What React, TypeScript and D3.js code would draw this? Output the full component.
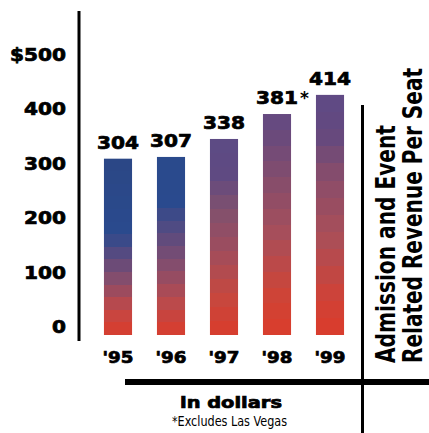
import React from "react";
import * as d3 from "d3";

const years = ["'95", "'96", "'97", "'98", "'99"];
const revenue = [304, 307, 338, 381, 414];
const valueLabels = ["304", "307", "338", "381*", "414"];
const tickValues = [0, 100, 200, 300, 400, 500];
const tickLabels = ["0", "100", "200", "300", "400", "$500"];
const titleLines = ["Admission and Event", "Related Revenue Per Seat"];
const unitLabel = "in dollars";
const footnote = "*Excludes Las Vegas";

// per-bar gradient stops (offset from top, colour)
const barGradients: [number, string][][] = [
  [[0, "#2b4785"], [0.42, "#2a4a8e"], [0.56, "#5d4a7e"], [0.7, "#8a4d6a"], [0.86, "#c44845"], [1, "#da3c2c"]],
  [[0, "#2a4a8c"], [0.25, "#2a4a8e"], [0.45, "#5e4b7e"], [0.62, "#874d6c"], [0.82, "#bb4a4b"], [1, "#da3c2c"]],
  [[0, "#5d4b85"], [0.18, "#5f4a82"], [0.36, "#80506e"], [0.56, "#9e4d5e"], [0.8, "#c6483f"], [1, "#da3c2c"]],
  [[0, "#634a82"], [0.1, "#6a4a7c"], [0.3, "#854d6c"], [0.55, "#a84e5a"], [0.8, "#cc4538"], [1, "#da3c2c"]],
  [[0, "#5f4a85"], [0.16, "#63497f"], [0.35, "#8a4d6a"], [0.6, "#ab4e57"], [0.85, "#d04236"], [1, "#da3c2c"]],
];

const W = 429;
const H = 433;
const wideFont = "'DejaVu Sans', sans-serif";
const condFont = "'DejaVu Sans Condensed', 'DejaVu Sans', sans-serif";

export default function App() {
  const x = d3.scaleBand<string>().domain(years).range([91.5, 356.5]).paddingInner(0.47).paddingOuter(0.235);
  const y = d3.scaleLinear().domain([0, 500]).range([335, 45]);
  const yLabel = d3.scaleLinear().domain([0, 500]).range([327, 54.5]);
  const bands = 14;

  const gradStops = (stops: [number, string][]) => {
    const interp = d3.scaleLinear<string>().domain(stops.map((s) => s[0])).range(stops.map((s) => s[1])).interpolate(d3.interpolateRgb);
    const out: { o: number; c: string }[] = [];
    for (let i = 0; i < bands; i++) {
      const c = interp((i + 0.5) / bands);
      out.push({ o: i / bands, c });
      out.push({ o: (i + 1) / bands, c });
    }
    return out;
  };

  const heavy = { stroke: "#000", strokeWidth: 0.7 };

  return (
    <svg width={W} height={H} style={{ position: "absolute", left: 0, top: 0, background: "#fff" }}>
      <defs>
        {barGradients.map((g, i) => (
          <linearGradient key={i} id={`bar${i}`} x1="0" y1="0" x2="0" y2="1">
            {gradStops(g).map((s, j) => (
              <stop key={j} offset={s.o} stopColor={s.c} />
            ))}
          </linearGradient>
        ))}
      </defs>
      <rect width={W} height={H} fill="#fff" />

      {/* left axis line */}
      <line x1={79} x2={79} y1={11} y2={341} stroke="#000" strokeWidth={3} />

      {/* tick labels */}
      {tickValues.map((v, i) => (
        <text
          key={v}
          x={66}
          y={yLabel(v) + 6}
          textAnchor="end"
          fontFamily={wideFont}
          fontWeight="bold"
          fontSize={17}
          textLength={tickLabels[i].length * 14}
          lengthAdjust="spacingAndGlyphs"
          {...heavy}
        >
          {tickLabels[i]}
        </text>
      ))}

      {/* bars */}
      {years.map((yr, i) => (
        <rect
          key={yr}
          x={x(yr)!}
          y={y(revenue[i])}
          width={x.bandwidth()}
          height={y(0) - y(revenue[i])}
          fill={`url(#bar${i})`}
        />
      ))}

      {/* value labels */}
      {years.map((yr, i) => {
        const lbl = valueLabels[i];
        const digits = lbl.replace("*", "");
        const cx = x(yr)! + x.bandwidth() / 2;
        return (
          <g key={yr}>
            <text
              x={cx}
              y={y(revenue[i]) - 10}
              textAnchor="middle"
              fontFamily={wideFont}
              fontWeight="bold"
              fontSize={17}
              textLength={digits.length * 14}
              lengthAdjust="spacingAndGlyphs"
              {...heavy}
            >
              {digits}
            </text>
            {lbl.includes("*") && (
              <text x={cx + 23} y={y(revenue[i]) - 10} fontFamily={wideFont} fontWeight="bold" fontSize={17}>
                *
              </text>
            )}
          </g>
        );
      })}

      {/* year labels */}
      {years.map((yr) => (
        <text
          key={yr}
          x={x(yr)! + x.bandwidth() / 2}
          y={363}
          textAnchor="middle"
          fontFamily={wideFont}
          fontWeight="bold"
          fontSize={15.5}
          textLength={31}
          lengthAdjust="spacingAndGlyphs"
          {...heavy}
        >
          {yr}
        </text>
      ))}

      {/* horizontal rule */}
      <rect x={125} y={379} width={W - 125} height={6} fill="#000" />
      {/* vertical rule */}
      <rect x={361} y={105} width={3} height={H - 105} fill="#000" />

      {/* bottom labels */}
      <text
        x={231}
        y={408}
        textAnchor="middle"
        fontFamily={wideFont}
        fontWeight="bold"
        fontSize={15}
        textLength={102}
        lengthAdjust="spacingAndGlyphs"
        {...heavy}
      >
        {unitLabel}
      </text>
      <text
        x={229.5}
        y={426}
        textAnchor="middle"
        fontFamily={condFont}
        fontSize={14}
        textLength={115}
        lengthAdjust="spacingAndGlyphs"
      >
        {footnote}
      </text>

      {/* rotated title */}
      {titleLines.map((t, i) => (
        <text
          key={t}
          transform={`translate(${395 + i * 27},363) rotate(-90)`}
          fontFamily={condFont}
          fontWeight="bold"
          fontSize={27}
          textLength={i === 0 ? 238 : 295}
          lengthAdjust="spacingAndGlyphs"
        >
          {t}
        </text>
      ))}
    </svg>
  );
}
